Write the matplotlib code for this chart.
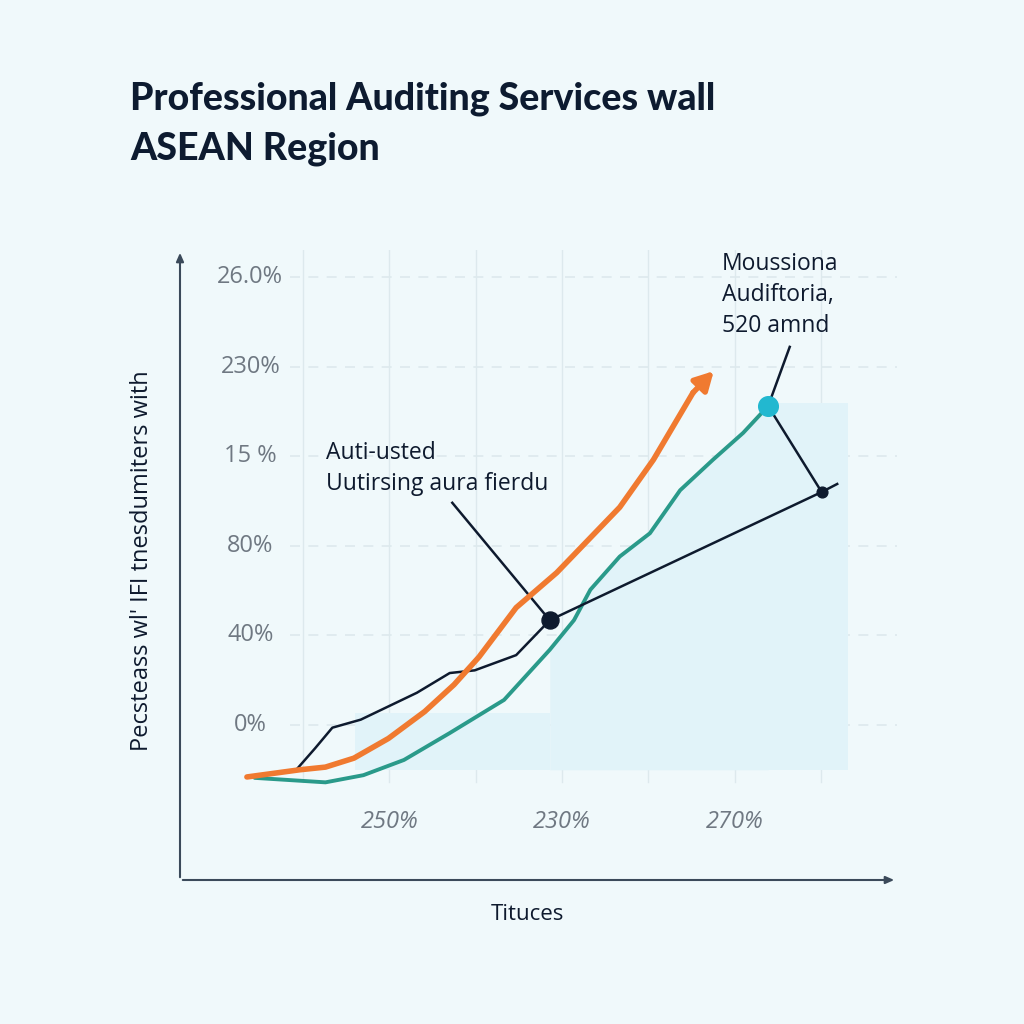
import matplotlib
matplotlib.use("Agg")
import matplotlib.pyplot as plt
from matplotlib.patches import Rectangle

plt.rcParams['font.family'] = ['Open Sans', 'DejaVu Sans']

# ---------------- data (in grid units) ----------------
orange_x = [-0.65, -0.04, 0.26, 0.59, 0.99, 1.41, 1.75, 2.04, 2.47, 2.94, 3.67, 4.06, 4.52]
orange_y = [-0.58, -0.50, -0.47, -0.37, -0.15, 0.15, 0.45, 0.76, 1.31, 1.70, 2.43, 2.96, 3.71]
orange_tip = (4.76, 3.95)

teal_x = [-0.56, 0.26, 0.70, 1.17, 1.70, 2.33, 2.86, 3.14, 3.33, 3.67, 4.02, 4.37, 4.75, 5.10, 5.39]
teal_y = [-0.59, -0.64, -0.56, -0.39, -0.09, 0.28, 0.84, 1.17, 1.51, 1.88, 2.14, 2.62, 2.96, 3.26, 3.56]

navy_x = [-0.06, 0.14, 0.34, 0.67, 1.32, 1.70, 1.99, 2.47, 2.86, 6.01, 6.19]
navy_y = [-0.48, -0.26, -0.03, 0.06, 0.36, 0.58, 0.61, 0.78, 1.17, 2.60, 2.69]

dot_navy_big = (2.86, 1.17)
dot_navy_small = (6.01, 2.60)
dot_cyan = (5.39, 3.56)

lead1_x = [1.73, 2.85]
lead1_y = [2.48, 1.18]
lead2_x = [5.64, 5.39, 6.01]
lead2_y = [4.22, 3.56, 2.60]

y_ticks = [0, 1, 2, 3, 4, 5]
y_labels = ["0%", "40%", "80%", "15 %", "230%", "26.0%"]
x_ticks = [1, 3, 5]
x_labels = ["250%", "230%", "270%"]
v_grid = [0, 1, 2, 3, 4, 5, 6]

title = "Professional Auditing Services wall\nASEAN Region"
ylabel = "Pecsteass wl' IFI tnesdumiters with"
xlabel = "Tituces"
note1 = "Auti-usted\nUutirsing aura fierdu"
note2 = "Moussiona\nAudiftoria,\n520 amnd"

# ---------------- colors ----------------
BG = "#f0f9fb"
ORANGE = "#f07a30"
TEAL = "#2a9a8a"
NAVY = "#0e1a2e"
CYAN = "#22b8d0"
GRID = "#dde9ed"
SHADE = "#e1f3f9"
TICK = "#6f7882"
AXIS = "#3b4a5a"

fig = plt.figure(figsize=(10.24, 10.24), dpi=100, facecolor=BG)
W = H = 1024.0
left, right, top, bottom = 180, 897, 250, 880
ax = fig.add_axes([left / W, 1 - bottom / H, (right - left) / W, (bottom - top) / H])
ax.set_facecolor("none")

ax.set_xlim((left - 303) / 86.3, (right - 303) / 86.3)
ax.set_ylim((725 - bottom) / 89.6, (725 - top) / 89.6)

for s in ["top", "right", "left", "bottom"]:
    ax.spines[s].set_visible(False)
ax.set_xticks([])
ax.set_yticks([])

x0, x1 = ax.get_xlim()
y0, y1 = ax.get_ylim()

# axis arrows
ax.annotate("", xy=(x0, y1), xytext=(x0, y0),
            arrowprops=dict(arrowstyle="-|>,head_length=0.5,head_width=0.22", color=AXIS, lw=1.5),
            annotation_clip=False)
ax.annotate("", xy=(x1, y0), xytext=(x0, y0),
            arrowprops=dict(arrowstyle="-|>,head_length=0.5,head_width=0.22", color=AXIS, lw=1.5),
            annotation_clip=False)

# grid
for gx in v_grid:
    ax.plot([gx, gx], [-0.64, y1], color=GRID, lw=1.0, zorder=0)
for gy in y_ticks:
    ax.plot([-0.15, x1], [gy, gy], color=GRID, lw=1.2, ls=(0, (6, 5)), zorder=0)

# shading
base = -0.50
ax.add_patch(Rectangle((0.60, base), 2.86 - 0.60, 0.13 - base, color=SHADE, lw=0, zorder=1))
ax.add_patch(Rectangle((5.39, base), 6.32 - 5.39, 3.59 - base, color=SHADE, lw=0, zorder=1))
sx = [x for x in teal_x if x >= 2.86]
sy = [y for x, y in zip(teal_x, teal_y) if x >= 2.86]
ax.fill_between(sx, sy, [base] * len(sx), color=SHADE, lw=0, zorder=1)

# tick labels
for t, lab in zip(y_ticks, y_labels):
    ax.text(-0.61, t, lab, ha="center", va="center", fontsize=17, color=TICK)
for t, lab in zip(x_ticks, x_labels):
    ax.text(t, -1.08, lab, ha="center", va="center", fontsize=17, color=TICK, style="italic")

# lines
ax.plot(teal_x, teal_y, color=TEAL, lw=2.8, zorder=3, solid_capstyle="round")
ax.plot(navy_x, navy_y, color=NAVY, lw=1.8, zorder=4)
ax.plot(orange_x, orange_y, color=ORANGE, lw=4.0, zorder=5, solid_capstyle="round")
ax.annotate("", xy=orange_tip, xytext=(orange_x[-1], orange_y[-1]),
            arrowprops=dict(arrowstyle="-|>,head_length=1.1,head_width=0.6", color=ORANGE, lw=4.0,
                            shrinkA=0, shrinkB=0), zorder=5)

# leaders
ax.plot(lead1_x, lead1_y, color=NAVY, lw=1.8, zorder=4)
ax.plot(lead2_x, lead2_y, color=NAVY, lw=1.8, zorder=4)

# dots
ax.scatter([dot_navy_big[0]], [dot_navy_big[1]], s=150, color=NAVY, zorder=6)
ax.scatter([dot_navy_small[0]], [dot_navy_small[1]], s=60, color=NAVY, zorder=6)
ax.scatter([dot_cyan[0]], [dot_cyan[1]], s=200, color=CYAN, zorder=6)

# annotations
ax.text((326 - 303) / 86.3, (725 - 441) / 89.6, note1, ha="left", va="top", fontsize=16.5,
        color=NAVY, linespacing=1.4)
ax.text((722 - 303) / 86.3, (725 - 252) / 89.6, note2, ha="left", va="top", fontsize=16.5,
        color=NAVY, linespacing=1.38)

# titles / labels
fig.text(130 / W, 1 - 82 / H, title, ha="left", va="top", fontsize=27, fontweight="black",
         color="#0d1b30", linespacing=1.55, family=["Lato", "DejaVu Sans"])
fig.text(142 / W, 1 - 561 / H, ylabel, rotation=90, ha="center", va="center", fontsize=17,
         color=NAVY)
fig.text(527 / W, 1 - 915 / H, xlabel, ha="center", va="center", fontsize=16, color=NAVY)

fig.savefig("out.png", dpi=100, facecolor=BG)
